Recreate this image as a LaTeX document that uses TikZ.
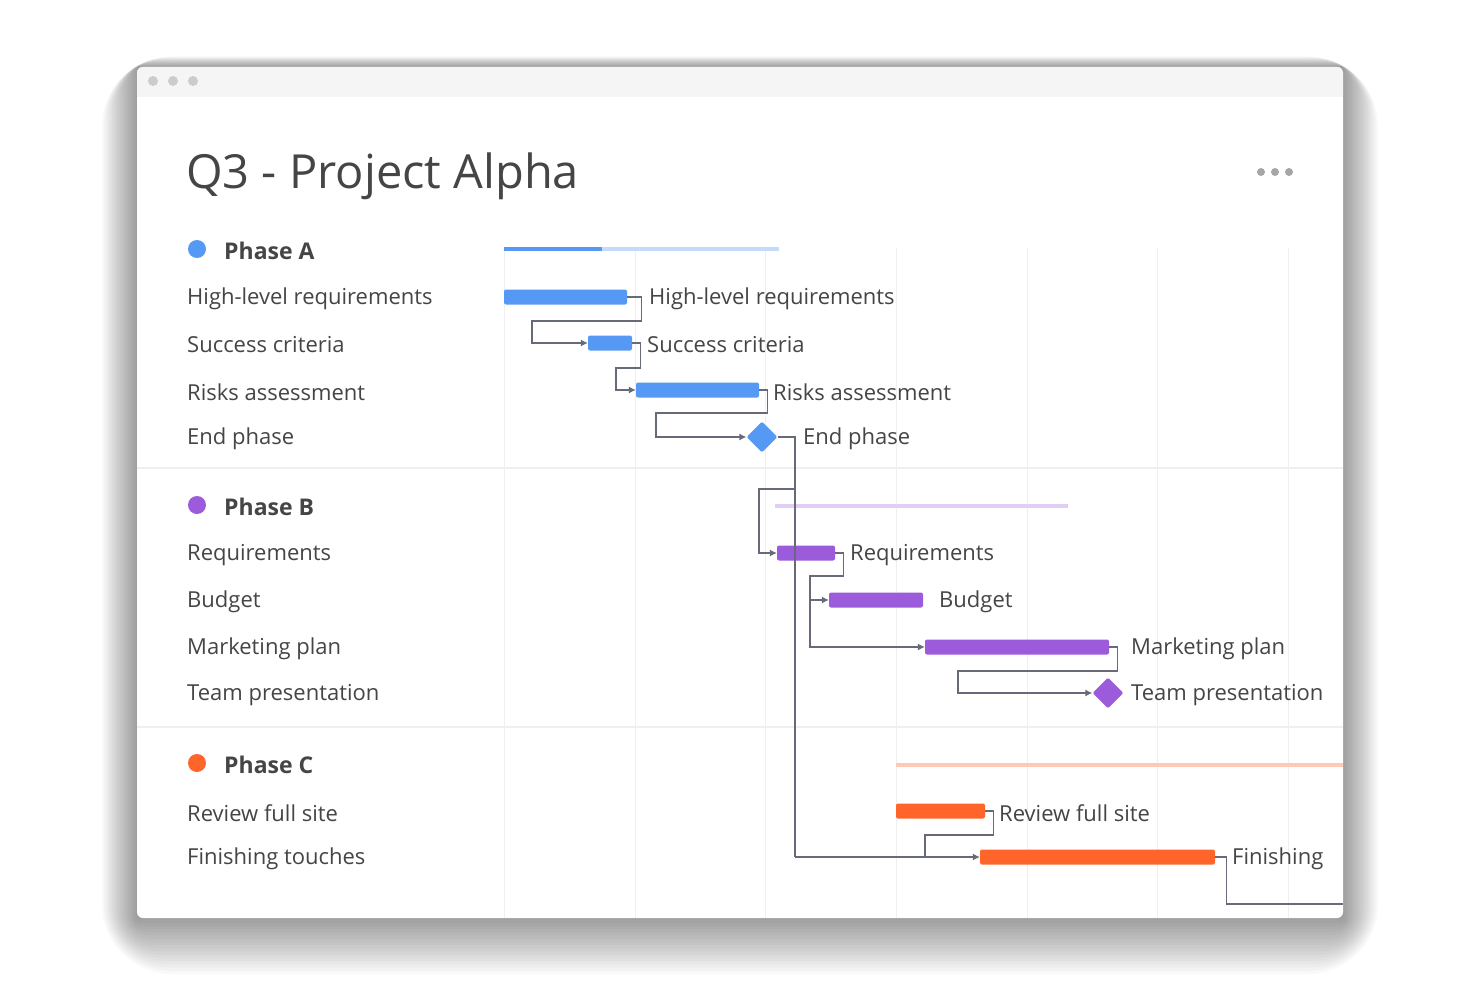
\documentclass[tikz,border=0pt]{standalone}
\usepackage{fontspec}
\setmainfont{Open Sans}
\usetikzlibrary{shapes.geometric,arrows.meta}
\definecolor{ablue}{HTML}{5599F5}
\definecolor{bpurple}{HTML}{9C5BDB}
\definecolor{corange}{HTML}{FF642B}
\definecolor{txt}{HTML}{454545}
\definecolor{link}{HTML}{676A78}
\definecolor{grid}{HTML}{EFEFF2}
\tikzset{
  bar/.style={fill=#1, rounded corners=2pt, minimum height=15pt, inner sep=0pt},
  mile/.style={diamond, fill=#1, minimum size=31pt, inner sep=0pt, rounded corners=2pt},
  lbl/.style={text=txt, font=\fontsize{22}{25}\selectfont, inner sep=0pt, yshift=-2pt},
  link/.style={draw=link, line width=1.1pt},
  larr/.style={link, -{Latex[length=7pt,width=7pt]}}
}
\begin{document}
\begin{tikzpicture}[x=1pt,y=-1pt]
\useasboundingbox (0,0) rectangle (1480,987);
\fill[white] (0,0) rectangle (1480,987);
% shadow
\foreach \s in {70,66,...,2}
  \fill[black, opacity=0.022, rounded corners=\s] (137-\s*0.5,67-\s*0.15) rectangle (1343+\s*0.5,918+\s*0.8);
\fill[white, rounded corners=6pt] (137,67) rectangle (1343,918);
\begin{scope}
\clip[rounded corners=6pt] (137,67) rectangle (1343,918);
\fill[gray!8] (137,67) rectangle (1343,97);
\end{scope}
\foreach \x in {153,173,193}
  \fill[gray!40] (\x,81) circle (5);
% grid
\foreach \x in {504,635,765,896,1027,1157,1288}
  \draw[grid, line width=1pt] (\x,248) -- (\x,918);
\draw[grid, line width=1.2pt] (137,468) -- (1343,468) (137,727) -- (1343,727);

\node[text=txt, anchor=west, inner sep=0pt, font=\fontsize{47}{50}\selectfont] (title) at (186,176) {Q3 - Project Alpha};
\foreach \x in {1261,1275,1289}
  \fill[gray!70] (\x,172) circle (4);

% phase headers
\fill[ablue] (197,249) circle (9);
\node[lbl, anchor=west, font=\fontsize{23}{26}\selectfont\bfseries] (pa) at (224,249) {Phase A};
\fill[bpurple] (197,505) circle (9);
\node[lbl, anchor=west, font=\fontsize{23}{26}\selectfont\bfseries] (pb) at (224,505) {Phase B};
\fill[corange] (197,763) circle (9);
\node[lbl, anchor=west, font=\fontsize{23}{26}\selectfont\bfseries] (pc) at (224,763) {Phase C};

% task list
\foreach \t/\y in {High-level requirements/297, Success criteria/343, Risks assessment/390, End phase/437,
  Requirements/553, Budget/600, Marketing plan/647, Team presentation/693,
  Review full site/811, Finishing touches/857}
  \node[lbl, anchor=west] at (187,\y) {\t};

% summary lines
\draw[ablue!35, line width=4pt] (504,249) -- (779,249);
\draw[ablue, line width=4pt] (504,249) -- (602,249);
\draw[bpurple!30, line width=4pt] (775,506) -- (1068,506);
\draw[corange!35, line width=4pt] (896,765) -- (1343,765);

% bars
\node[bar=ablue, minimum width=123pt] (hlr) at (565.5,297) {};
\node[bar=ablue, minimum width=44pt] (sc) at (610,343) {};
\node[bar=ablue, minimum width=123pt] (ra) at (697.5,390) {};
\node[mile=ablue] (ep) at (762,437) {};
\node[bar=bpurple, minimum width=58pt] (req) at (806,553) {};
\node[bar=bpurple, minimum width=94pt] (bud) at (876,600) {};
\node[bar=bpurple, minimum width=184pt] (mp) at (1017,647) {};
\node[mile=bpurple] (tp) at (1108,693) {};
\node[bar=corange, minimum width=89pt] (rfs) at (940.5,811) {};
\node[bar=corange, minimum width=235pt] (ft) at (1097.5,857) {};

% bar labels
\node[lbl, anchor=west] at (649,297) {High-level requirements};
\node[lbl, anchor=west] at (647,343) {Success criteria};
\node[lbl, anchor=west] at (773,390) {Risks assessment};
\node[lbl, anchor=west] at (803,437) {End phase};
\node[lbl, anchor=west] at (850,553) {Requirements};
\node[lbl, anchor=west] at (939,600) {Budget};
\node[lbl, anchor=west] at (1131,647) {Marketing plan};
\node[lbl, anchor=west] at (1131,693) {Team presentation};
\node[lbl, anchor=west] at (999,811) {Review full site};
\node[lbl, anchor=west] at (1232,857) {Finishing};

% links
\draw[larr] (hlr.east) -- ++(14,0) -- ++(0,24) -| (532,343) -- (sc.west);
\draw[larr] (sc.east) -- ++(8,0) -- ++(0,25) -| (616,390) -- (ra.west);
\draw[larr] (ra.east) -- ++(8,0) -- ++(0,23) -| (656,437) -- (ep.west);
\draw[link] (ep.east) -- (795,437) -- (795,857);
\draw[larr] (795,489) -- (759,489) |- (req.west);
\draw[larr] (req.east) -- ++(8,0) -- ++(0,23) -| (810,600) -- (bud.west);
\draw[larr] (810,600) |- (mp.west);
\draw[larr] (mp.east) -- ++(8,0) -- ++(0,24) -| (958,693) -- (tp.west);
\draw[link] (rfs.east) -- ++(8,0) -- ++(0,24) -| (925,857);
\draw[larr] (795,857) -- (ft.west);
\draw[link] (ft.east) -- ++(11,0) |- (1343,904);
\end{tikzpicture}
\end{document}
